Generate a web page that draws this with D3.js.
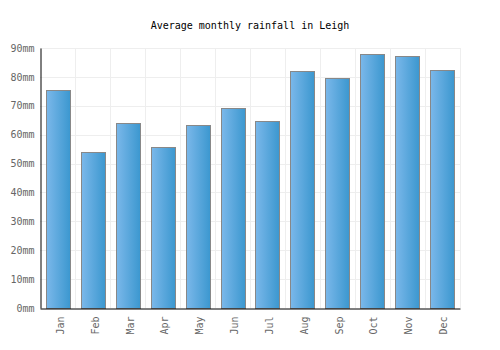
<!DOCTYPE html>
<html>
<head>
<meta charset="utf-8">
<script src="https://cdn.jsdelivr.net/npm/d3@7"></script>
<style>
  body { margin: 0; background: #fff; }
  text { font-family: "DejaVu Sans Mono", monospace; }
</style>
</head>
<body>
<div id="container"></div>
<script>
let months = ["Jan", "Feb", "Mar", "Apr", "May", "Jun", "Jul", "Aug", "Sep", "Oct", "Nov", "Dec"];
let rainfall = [75.5, 54.0, 64.0, 55.7, 63.3, 69.1, 64.6, 82.0, 79.6, 87.9, 87.2, 82.4];
let yTicks = [0, 10, 20, 30, 40, 50, 60, 70, 80, 90];

let w = 500;
let h = 350;
let padL = 40, padR = 460, padT = 48, padB = 308;

let viz = d3.select("#container")
  .append("svg")
  .attr("width", w)
  .attr("height", h)
;

let grad = viz.append("defs").append("linearGradient")
  .attr("id", "barGrad")
  .attr("x1", "0%").attr("x2", "100%")
  .attr("y1", "0%").attr("y2", "0%");
grad.append("stop").attr("offset", "0%").attr("stop-color", "#7bb8ea");
grad.append("stop").attr("offset", "100%").attr("stop-color", "#3b97cf");

let x = d3.scaleBand().domain(months).range([padL, padR]).paddingInner(0.31).paddingOuter(0.18);
let y = d3.scaleLinear().domain([0, 90]).range([padB, padT]);

// grid
viz.append("g").selectAll("line.h").data(yTicks.slice(1)).enter()
  .append("line")
  .attr("x1", padL).attr("x2", padR)
  .attr("y1", d => Math.round(y(d)) + 0.5).attr("y2", d => Math.round(y(d)) + 0.5)
  .attr("stroke", "#eeeeee");

let step = (padR - padL) / months.length;
viz.append("g").selectAll("line.v").data(months).enter()
  .append("line")
  .attr("x1", (d, i) => Math.round(padL + step * (i + 1)) + 0.5)
  .attr("x2", (d, i) => Math.round(padL + step * (i + 1)) + 0.5)
  .attr("y1", padT).attr("y2", padB)
  .attr("stroke", "#eeeeee");

// bars
viz.append("g").selectAll("rect").data(rainfall).enter()
  .append("rect")
  .attr("x", (d, i) => Math.round(x(months[i])) + 0.5)
  .attr("y", d => Math.round(y(d)) + 0.5)
  .attr("width", Math.round(x.bandwidth()))
  .attr("height", d => padB - Math.round(y(d)))
  .attr("fill", "url(#barGrad)")
  .attr("stroke", "#888888")
  .attr("stroke-width", 1);

// axes
let yAxis = d3.axisLeft(y).tickValues(yTicks).tickSize(0).tickPadding(6).tickFormat(d => d + "mm");
let yg = viz.append("g").attr("transform", `translate(${padL + 0.5},0)`).call(yAxis);
yg.select(".domain").attr("stroke", "#000").attr("stroke-width", 1);
yg.selectAll("text").attr("fill", "#666").style("font-size", "10px");

let xAxis = d3.axisBottom(x).tickSize(0).tickPadding(8);
let xg = viz.append("g").attr("transform", `translate(0,${padB + 0.5})`).call(xAxis);
xg.select(".domain").attr("stroke", "#000").attr("stroke-width", 1);
xg.selectAll("text")
  .attr("fill", "#666")
  .style("font-size", "10px")
  .attr("text-anchor", "end")
  .attr("transform", "rotate(-90)")
  .attr("x", -8)
  .attr("y", 2)
  .attr("dy", "0.35em");

viz.append("text")
  .attr("x", 250)
  .attr("y", 29)
  .attr("text-anchor", "middle")
  .style("font-size", "10px")
  .attr("fill", "#000")
  .text("Average monthly rainfall in Leigh");
</script>
</body>
</html>
